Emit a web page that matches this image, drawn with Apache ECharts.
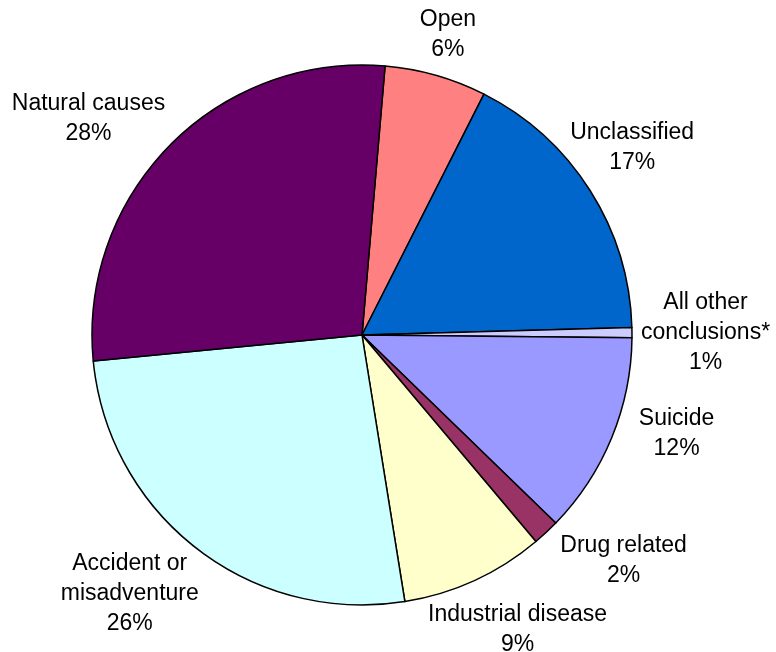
<!DOCTYPE html>
<html>
<head>
<meta charset="utf-8">
<script src="https://cdn.jsdelivr.net/npm/echarts@6/dist/echarts.min.js"></script>
<style>
html,body{margin:0;padding:0;background:#fff;}
#chart{width:776px;height:652px;}
</style>
</head>
<body>
<div id="chart"></div>
<script>
var categories = ["Open", "Unclassified", "All other\nconclusions*", "Suicide", "Drug related", "Industrial disease", "Accident or\nmisadventure", "Natural causes"];
var values = [6.1, 17.1, 0.6, 12.1, 1.6, 8.6, 26.0, 27.9];
var colors = ["#FF8080", "#0066CC", "#CCCCFF", "#9999FF", "#993366", "#FFFFCC", "#CCFFFF", "#660066"];

// layout constants (not data)
var CX = 362, CY = 335, R = 270, START = 85.1, GAP = 14;
// small label nudges in px, like a manual label drag in the source chart
var labelShift = [[0, 2], [-16, -6], [-5, 1], [18, -23], [35, -18], [18, -6], [-25, -10], [-30, 24]];

var total = values.reduce(function (a, b) { return a + b; }, 0);
function midAngle(i) {
  var cum = 0;
  for (var k = 0; k < i; k++) cum += values[k];
  var a = (90 - START) + (cum + values[i] / 2) / total * 360;
  return a * Math.PI / 180;
}

var chart = echarts.init(document.getElementById('chart'));
chart.setOption({
  animation: false,
  backgroundColor: '#ffffff',
  series: [{
    type: 'pie',
    center: [CX, CY],
    radius: R,
    startAngle: START,
    clockwise: true,
    avoidLabelOverlap: false,
    data: categories.map(function (c, i) {
      return { name: c, value: values[i], itemStyle: { color: colors[i] } };
    }),
    itemStyle: { borderColor: '#000', borderWidth: 1.5 },
    emphasis: { disabled: true },
    label: {
      show: true,
      position: 'outside',
      fontFamily: 'Liberation Sans, Arial, sans-serif',
      fontSize: 23,
      lineHeight: 30,
      color: '#000',
      align: 'center',
      formatter: function (p) { return p.name + '\n' + Math.round(p.percent) + '%'; }
    },
    labelLine: { show: false },
    labelLayout: function (p) {
      var a = midAngle(p.dataIndex);
      var ux = Math.sin(a), uy = -Math.cos(a);
      var w = p.labelRect.width / 2, h = p.labelRect.height / 2;
      var e = Math.sqrt(Math.pow(w * ux, 2) + Math.pow(h * uy, 2));
      var d = R + GAP + e;
      var s = labelShift[p.dataIndex];
      return { x: CX + d * ux + s[0], y: CY + d * uy + s[1], align: 'center', verticalAlign: 'middle' };
    }
  }]
});
</script>
</body>
</html>
